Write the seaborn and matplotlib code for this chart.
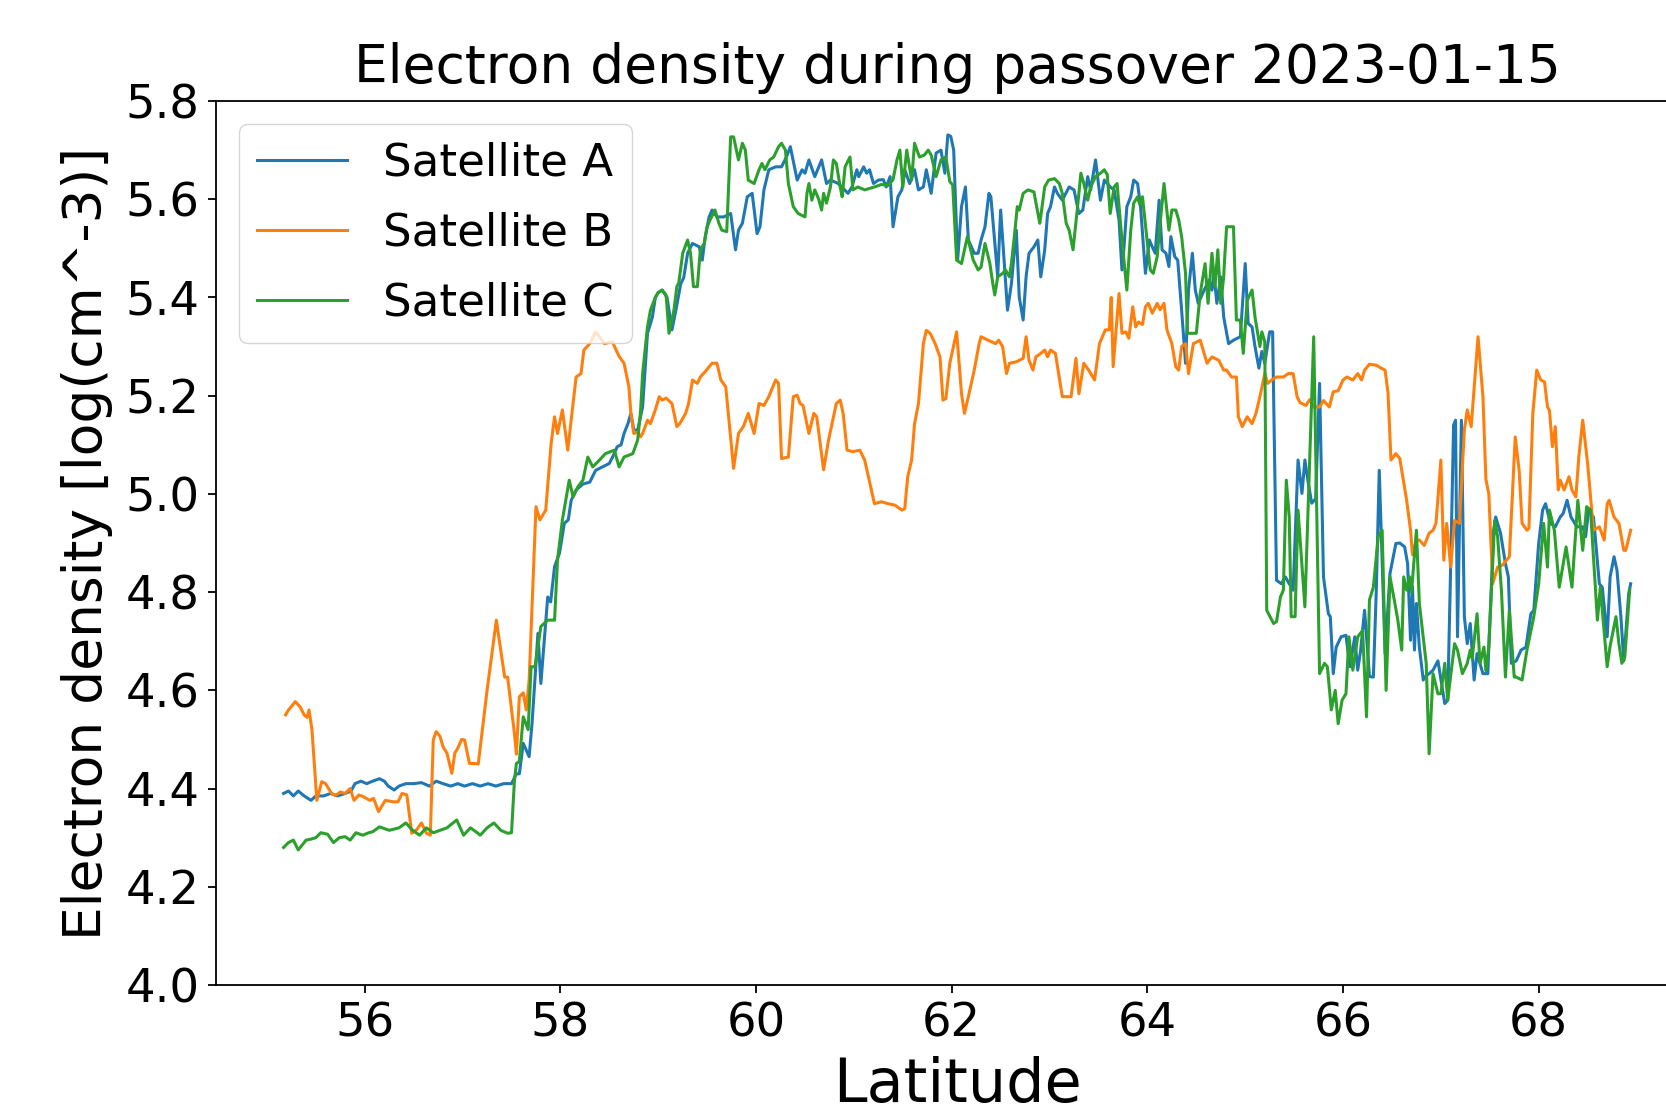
import matplotlib
matplotlib.use("Agg")
import matplotlib.pyplot as plt
import seaborn as sns
import pandas as pd

lat_a = [55.17, 55.22, 55.27, 55.32, 55.38, 55.45, 55.50, 55.58, 55.65, 55.72, 55.80, 55.86, 55.90, 55.96, 56.02, 56.08,
         56.15, 56.20, 56.24, 56.30, 56.35, 56.42, 56.50, 56.58, 56.66, 56.73, 56.80, 56.88, 56.95, 57.02, 57.10, 57.18,
         57.26, 57.34, 57.42, 57.50, 57.55, 57.58, 57.62, 57.68, 57.71, 57.77, 57.80, 57.84, 57.87, 57.90, 57.94, 57.99,
         58.04, 58.08, 58.11, 58.16, 58.23, 58.30, 58.36, 58.43, 58.50, 58.55, 58.58, 58.62, 58.65, 58.69, 58.72, 58.75,
         58.79, 58.84, 58.89, 58.94, 58.97, 59.00, 59.04, 59.09, 59.14, 59.18, 59.23, 59.26, 59.30, 59.35, 59.42, 59.45,
         59.48, 59.52, 59.55, 59.60, 59.67, 59.74, 59.79, 59.82, 59.86, 59.91, 59.96, 60.01, 60.04, 60.08, 60.13, 60.20,
         60.26, 60.31, 60.35, 60.42, 60.47, 60.50, 60.54, 60.60, 60.67, 60.72, 60.76, 60.84, 60.94, 60.98, 61.03, 61.05,
         61.10, 61.13, 61.16, 61.20, 61.25, 61.30, 61.33, 61.37, 61.40, 61.45, 61.49, 61.52, 61.57, 61.62, 61.66, 61.71,
         61.74, 61.79, 61.84, 61.89, 61.93, 61.96, 61.99, 62.02, 62.06, 62.10, 62.14, 62.17, 62.23, 62.27, 62.30, 62.34,
         62.38, 62.40, 62.45, 62.47, 62.50, 62.56, 62.57, 62.61, 62.66, 62.69, 62.73, 62.76, 62.79, 62.84, 62.88, 62.91,
         62.95, 62.98, 63.01, 63.05, 63.08, 63.13, 63.20, 63.25, 63.30, 63.34, 63.39, 63.42, 63.47, 63.52, 63.56, 63.62,
         63.66, 63.71, 63.74, 63.76, 63.79, 63.83, 63.86, 63.90, 63.93, 63.98, 64.02, 64.05, 64.08, 64.12, 64.15, 64.19,
         64.22, 64.24, 64.28, 64.31, 64.35, 64.39, 64.42, 64.46, 64.49, 64.52, 64.58, 64.63, 64.66, 64.68, 64.71, 64.75,
         64.78, 64.83, 64.88, 64.95, 65.00, 65.03, 65.07, 65.10, 65.14, 65.17, 65.20, 65.25, 65.28, 65.32, 65.37, 65.41,
         65.47, 65.49, 65.54, 65.58, 65.61, 65.64, 65.68, 65.72, 65.76, 65.80, 65.85, 65.87, 65.90, 65.93, 65.98, 66.03,
         66.07, 66.12, 66.15, 66.18, 66.22, 66.27, 66.31, 66.34, 66.37, 66.41, 66.43, 66.48, 66.54, 66.58, 66.63, 66.66,
         66.69, 66.71, 66.73, 66.75, 66.78, 66.82, 66.85, 66.88, 66.92, 66.97, 67.04, 67.07, 67.10, 67.13, 67.15, 67.17,
         67.21, 67.24, 67.27, 67.30, 67.34, 67.37, 67.43, 67.48, 67.49, 67.54, 67.56, 67.61, 67.66, 67.69, 67.72, 67.77,
         67.82, 67.87, 67.92, 67.95, 68.00, 68.04, 68.07, 68.12, 68.17, 68.22, 68.25, 68.29, 68.33, 68.39, 68.45, 68.48,
         68.51, 68.56, 68.62, 68.65, 68.70, 68.73, 68.77, 68.80, 68.84, 68.87, 68.92, 68.94]
dens_a = [4.39, 4.395, 4.385, 4.395, 4.385, 4.376, 4.385, 4.385, 4.39, 4.385, 4.39, 4.395, 4.41, 4.415, 4.41, 4.415,
          4.42, 4.415, 4.405, 4.397, 4.405, 4.41, 4.41, 4.412, 4.405, 4.415, 4.41, 4.405, 4.41, 4.405, 4.41, 4.405,
          4.41, 4.405, 4.41, 4.41, 4.43, 4.43, 4.492, 4.465, 4.533, 4.716, 4.614, 4.716, 4.79, 4.78, 4.852, 4.879,
          4.94, 4.947, 4.987, 5.008, 5.02, 5.024, 5.048, 5.055, 5.062, 5.082, 5.096, 5.10, 5.123, 5.143, 5.164, 5.13,
          5.13, 5.177, 5.327, 5.36, 5.40, 5.41, 5.415, 5.40, 5.334, 5.374, 5.428, 5.44, 5.49, 5.51, 5.503, 5.476,
          5.524, 5.564, 5.578, 5.564, 5.564, 5.571, 5.497, 5.537, 5.551, 5.605, 5.612, 5.53, 5.544, 5.619, 5.66, 5.666,
          5.666, 5.686, 5.707, 5.639, 5.66, 5.653, 5.68, 5.646, 5.68, 5.632, 5.639, 5.632, 5.612, 5.625, 5.66, 5.646,
          5.666, 5.653, 5.66, 5.632, 5.639, 5.64, 5.625, 5.646, 5.544, 5.605, 5.619, 5.66, 5.632, 5.66, 5.619, 5.625,
          5.66, 5.612, 5.694, 5.70, 5.653, 5.731, 5.728, 5.70, 5.476, 5.585, 5.625, 5.517, 5.49, 5.49, 5.517, 5.544,
          5.612, 5.605, 5.49, 5.442, 5.578, 5.401, 5.374, 5.428, 5.537, 5.401, 5.354, 5.442, 5.49, 5.503, 5.517, 5.442,
          5.496, 5.571, 5.585, 5.625, 5.612, 5.598, 5.625, 5.619, 5.571, 5.578, 5.646, 5.619, 5.68, 5.598, 5.639, 5.625,
          5.619, 5.558, 5.456, 5.50, 5.585, 5.605, 5.639, 5.632, 5.585, 5.449, 5.517, 5.503, 5.49, 5.598, 5.497, 5.49,
          5.463, 5.524, 5.483, 5.476, 5.374, 5.266, 5.415, 5.49, 5.415, 5.388, 5.415, 5.435, 5.415, 5.449, 5.388, 5.442,
          5.36, 5.306, 5.313, 5.32, 5.469, 5.347, 5.34, 5.30, 5.256, 5.29, 5.266, 5.33, 5.33, 4.824, 4.817, 4.831,
          4.81, 4.804, 5.069, 5.001, 5.069, 5.028, 4.981, 4.99, 5.225, 4.831, 4.756, 4.75, 4.634, 4.688, 4.709, 4.712,
          4.648, 4.709, 4.641, 4.682, 4.763, 4.628, 4.627, 4.804, 5.048, 4.797, 4.675, 4.838, 4.899, 4.90, 4.892, 4.858,
          4.702, 4.811, 4.682, 4.777, 4.688, 4.621, 4.63, 4.634, 4.641, 4.66, 4.573, 4.58, 4.852, 5.14, 5.15, 4.709,
          5.15, 4.75, 4.695, 4.736, 4.621, 4.675, 4.634, 4.634, 4.688, 4.926, 4.953, 4.92, 4.858, 4.831, 4.655, 4.66,
          4.682, 4.688, 4.756, 4.763, 4.90, 4.967, 4.98, 4.94, 4.933, 4.953, 4.96, 4.987, 4.953, 4.933, 4.933, 4.913,
          4.967, 4.953, 4.817, 4.81, 4.709, 4.831, 4.872, 4.845, 4.75, 4.66, 4.797, 4.817]

lat_b = [55.19, 55.22, 55.29, 55.34, 55.38, 55.41, 55.43, 55.46, 55.51, 55.56, 55.60, 55.66, 55.70, 55.75, 55.80, 55.85,
         55.89, 55.94, 55.99, 56.05, 56.09, 56.14, 56.21, 56.29, 56.34, 56.38, 56.43, 56.48, 56.53, 56.58, 56.63, 56.67,
         56.70, 56.73, 56.77, 56.80, 56.84, 56.89, 56.92, 56.95, 56.99, 57.02, 57.07, 57.12, 57.16, 57.25, 57.345, 57.43,
         57.46, 57.53, 57.55, 57.58, 57.62, 57.65, 57.68, 57.75, 57.79, 57.85, 57.905, 57.94, 57.97, 58.02, 58.075, 58.11,
         58.16, 58.21, 58.24, 58.30, 58.36, 58.45, 58.53, 58.60, 58.65, 58.70, 58.72, 58.75, 58.79, 58.82, 58.84, 58.89,
         58.92, 58.97, 59.01, 59.04, 59.08, 59.14, 59.19, 59.22, 59.28, 59.31, 59.35, 59.40, 59.43, 59.48, 59.55, 59.60,
         59.64, 59.69, 59.77, 59.82, 59.87, 59.92, 59.98, 60.03, 60.08, 60.13, 60.20, 60.23, 60.26, 60.33, 60.38, 60.42,
         60.45, 60.48, 60.54, 60.59, 60.62, 60.69, 60.74, 60.82, 60.86, 60.89, 60.93, 60.99, 61.06, 61.11, 61.21, 61.28,
         61.35, 61.42, 61.49, 61.52, 61.55, 61.59, 61.62, 61.66, 61.71, 61.74, 61.78, 61.83, 61.88, 61.91, 61.94, 61.98,
         62.01, 62.05, 62.10, 62.13, 62.17, 62.23, 62.28, 62.30, 62.37, 62.45, 62.48, 62.52, 62.56, 62.59, 62.66, 62.73,
         62.76, 62.79, 62.83, 62.86, 62.91, 62.95, 62.98, 63.01, 63.06, 63.13, 63.22, 63.27, 63.30, 63.35, 63.40, 63.46,
         63.51, 63.57, 63.61, 63.63, 63.65, 63.71, 63.74, 63.78, 63.81, 63.85, 63.88, 63.91, 63.95, 63.98, 64.01, 64.05,
         64.10, 64.13, 64.17, 64.20, 64.25, 64.29, 64.32, 64.35, 64.39, 64.42, 64.47, 64.54, 64.61, 64.66, 64.73, 64.78,
         64.81, 64.86, 64.91, 64.93, 64.97, 65.02, 65.07, 65.11, 65.15, 65.20, 65.23, 65.27, 65.32, 65.39, 65.44, 65.49,
         65.53, 65.56, 65.62, 65.66, 65.70, 65.76, 65.80, 65.86, 65.90, 65.95, 66.00, 66.04, 66.10, 66.15, 66.19, 66.22,
         66.27, 66.34, 66.39, 66.43, 66.46, 66.49, 66.54, 66.58, 66.65, 66.69, 66.71, 66.75, 66.78, 66.83, 66.88, 66.92,
         66.95, 67.00, 67.03, 67.06, 67.10, 67.14, 67.19, 67.24, 67.27, 67.31, 67.38, 67.43, 67.46, 67.49, 67.53, 67.58,
         67.63, 67.70, 67.76, 67.80, 67.83, 67.88, 67.90, 67.94, 67.98, 68.02, 68.06, 68.09, 68.11, 68.14, 68.17, 68.18,
         68.20, 68.22, 68.26, 68.31, 68.34, 68.38, 68.41, 68.45, 68.50, 68.56, 68.62, 68.67, 68.70, 68.72, 68.77, 68.82,
         68.87, 68.89, 68.94]
dens_b = [4.55, 4.56, 4.577, 4.566, 4.55, 4.545, 4.56, 4.52, 4.376, 4.414, 4.41, 4.39, 4.386, 4.393, 4.39, 4.40,
          4.376, 4.387, 4.383, 4.376, 4.38, 4.353, 4.376, 4.373, 4.373, 4.39, 4.387, 4.309, 4.316, 4.33, 4.309, 4.305,
          4.499, 4.516, 4.506, 4.485, 4.472, 4.431, 4.472, 4.482, 4.50, 4.499, 4.451, 4.451, 4.45, 4.60, 4.743, 4.627,
          4.627, 4.512, 4.47, 4.587, 4.595, 4.56, 4.62, 4.974, 4.947, 4.967, 5.103, 5.157, 5.123, 5.171, 5.089, 5.15,
          5.238, 5.245, 5.293, 5.306, 5.33, 5.306, 5.31, 5.28, 5.266, 5.218, 5.164, 5.123, 5.126, 5.116, 5.123, 5.15,
          5.143, 5.171, 5.198, 5.191, 5.195, 5.184, 5.137, 5.143, 5.164, 5.184, 5.232, 5.225, 5.238, 5.249, 5.266, 5.266,
          5.232, 5.218, 5.052, 5.123, 5.137, 5.164, 5.123, 5.184, 5.18, 5.198, 5.232, 5.225, 5.072, 5.075, 5.198, 5.201,
          5.184, 5.18, 5.123, 5.164, 5.157, 5.049, 5.109, 5.184, 5.191, 5.164, 5.089, 5.086, 5.089, 5.069, 4.98, 4.984,
          4.98, 4.977, 4.967, 4.97, 5.035, 5.069, 5.143, 5.184, 5.306, 5.333, 5.327, 5.306, 5.279, 5.191, 5.194, 5.266,
          5.293, 5.33, 5.204, 5.164, 5.198, 5.252, 5.306, 5.32, 5.313, 5.306, 5.313, 5.30, 5.245, 5.266, 5.269, 5.276,
          5.32, 5.272, 5.252, 5.279, 5.286, 5.293, 5.279, 5.293, 5.286, 5.198, 5.198, 5.276, 5.204, 5.266, 5.252, 5.232,
          5.306, 5.334, 5.334, 5.40, 5.259, 5.408, 5.327, 5.33, 5.317, 5.381, 5.34, 5.35, 5.345, 5.381, 5.388, 5.368,
          5.388, 5.375, 5.388, 5.334, 5.306, 5.259, 5.252, 5.30, 5.306, 5.245, 5.306, 5.313, 5.266, 5.279, 5.272, 5.252,
          5.252, 5.238, 5.238, 5.157, 5.137, 5.157, 5.143, 5.164, 5.198, 5.245, 5.225, 5.232, 5.238, 5.238, 5.245, 5.245,
          5.198, 5.186, 5.18, 5.192, 5.177, 5.177, 5.19, 5.177, 5.208, 5.21, 5.232, 5.238, 5.232, 5.245, 5.232, 5.252,
          5.264, 5.262, 5.256, 5.252, 5.205, 5.069, 5.082, 5.072, 4.987, 4.926, 4.876, 4.906, 4.906, 4.895, 4.92, 4.926,
          4.94, 5.069, 4.865, 4.94, 4.851, 4.946, 4.94, 5.13, 5.171, 5.137, 5.32, 5.198, 5.03, 5.00, 4.817, 4.851,
          4.855, 4.872, 5.116, 5.048, 4.94, 4.926, 4.93, 5.164, 5.252, 5.232, 5.228, 5.177, 5.17, 5.096, 5.137, 5.096,
          5.008, 5.028, 5.008, 5.035, 5.008, 4.994, 5.075, 5.15, 5.062, 4.926, 4.933, 4.906, 4.98, 4.987, 4.953, 4.94,
          4.885, 4.885, 4.926]

lat_c = [55.17, 55.22, 55.27, 55.32, 55.40, 55.45, 55.50, 55.55, 55.62, 55.68, 55.74, 55.80, 55.85, 55.91, 55.98, 56.04,
         56.08, 56.15, 56.25, 56.35, 56.42, 56.49, 56.56, 56.63, 56.70, 56.77, 56.84, 56.94, 57.01, 57.08, 57.15, 57.18,
         57.25, 57.32, 57.39, 57.46, 57.50, 57.53, 57.55, 57.58, 57.62, 57.67, 57.70, 57.74, 57.80, 57.87, 57.94, 57.97,
         58.02, 58.09, 58.13, 58.18, 58.23, 58.28, 58.33, 58.40, 58.46, 58.55, 58.60, 58.65, 58.74, 58.79, 58.82, 58.84,
         58.89, 58.92, 58.97, 59.00, 59.04, 59.08, 59.11, 59.16, 59.19, 59.21, 59.25, 59.30, 59.33, 59.36, 59.40, 59.43,
         59.47, 59.50, 59.53, 59.58, 59.62, 59.65, 59.70, 59.74, 59.77, 59.82, 59.86, 59.89, 59.92, 59.98, 60.03, 60.06,
         60.09, 60.14, 60.18, 60.23, 60.26, 60.30, 60.33, 60.38, 60.43, 60.50, 60.52, 60.54, 60.57, 60.60, 60.64, 60.67,
         60.69, 60.72, 60.76, 60.79, 60.82, 60.86, 60.88, 60.91, 60.96, 60.99, 61.04, 61.11, 61.21, 61.28, 61.35, 61.40,
         61.44, 61.47, 61.50, 61.54, 61.59, 61.62, 61.67, 61.72, 61.76, 61.79, 61.84, 61.89, 61.94, 61.98, 62.01, 62.05,
         62.10, 62.16, 62.22, 62.27, 62.30, 62.34, 62.39, 62.42, 62.44, 62.47, 62.52, 62.55, 62.59, 62.61, 62.64, 62.67,
         62.69, 62.73, 62.78, 62.84, 62.90, 62.91, 62.95, 62.99, 63.05, 63.10, 63.13, 63.17, 63.20, 63.24, 63.29, 63.32,
         63.35, 63.39, 63.42, 63.47, 63.52, 63.56, 63.59, 63.62, 63.66, 63.69, 63.74, 63.79, 63.83, 63.86, 63.90, 63.92,
         63.95, 64.00, 64.03, 64.06, 64.10, 64.13, 64.17, 64.22, 64.25, 64.29, 64.32, 64.35, 64.39, 64.41, 64.47, 64.50,
         64.54, 64.59, 64.62, 64.66, 64.69, 64.72, 64.75, 64.78, 64.79, 64.81, 64.88, 64.91, 64.95, 64.98, 65.02, 65.07,
         65.10, 65.15, 65.17, 65.20, 65.22, 65.29, 65.32, 65.36, 65.39, 65.42, 65.45, 65.47, 65.51, 65.54, 65.61, 65.70,
         65.76, 65.81, 65.84, 65.88, 65.92, 65.95, 65.99, 66.03, 66.06, 66.10, 66.15, 66.20, 66.24, 66.27, 66.31, 66.36,
         66.40, 66.44, 66.48, 66.53, 66.56, 66.60, 66.62, 66.65, 66.68, 66.70, 66.75, 66.78, 66.85, 66.88, 66.92, 66.97,
         67.00, 67.04, 67.07, 67.14, 67.17, 67.22, 67.27, 67.30, 67.32, 67.37, 67.40, 67.44, 67.46, 67.49, 67.55, 67.58,
         67.62, 67.66, 67.70, 67.75, 67.77, 67.83, 67.88, 67.95, 68.00, 68.05, 68.09, 68.11, 68.16, 68.21, 68.28, 68.34,
         68.40, 68.45, 68.49, 68.53, 68.60, 68.63, 68.70, 68.73, 68.79, 68.82, 68.85, 68.88, 68.93]
dens_c = [4.28, 4.29, 4.295, 4.275, 4.295, 4.297, 4.30, 4.31, 4.307, 4.29, 4.30, 4.302, 4.295, 4.31, 4.305, 4.31,
          4.312, 4.322, 4.315, 4.32, 4.33, 4.315, 4.305, 4.32, 4.31, 4.315, 4.32, 4.336, 4.305, 4.32, 4.31, 4.305,
          4.32, 4.33, 4.315, 4.309, 4.31, 4.417, 4.451, 4.455, 4.546, 4.52, 4.648, 4.648, 4.73, 4.743, 4.743, 4.865,
          4.947, 5.028, 4.994, 5.015, 5.028, 5.075, 5.055, 5.069, 5.082, 5.089, 5.055, 5.075, 5.082, 5.11, 5.171, 5.245,
          5.34, 5.374, 5.40, 5.41, 5.415, 5.405, 5.327, 5.374, 5.422, 5.43, 5.49, 5.517, 5.49, 5.422, 5.422, 5.497,
          5.51, 5.544, 5.558, 5.578, 5.551, 5.537, 5.534, 5.727, 5.727, 5.68, 5.714, 5.70, 5.639, 5.632, 5.66, 5.673,
          5.66, 5.68, 5.686, 5.707, 5.714, 5.70, 5.632, 5.585, 5.571, 5.564, 5.612, 5.632, 5.598, 5.619, 5.60, 5.578,
          5.612, 5.592, 5.625, 5.68, 5.673, 5.625, 5.605, 5.666, 5.686, 5.619, 5.625, 5.619, 5.625, 5.63, 5.628, 5.64,
          5.68, 5.70, 5.625, 5.70, 5.639, 5.714, 5.686, 5.69, 5.70, 5.69, 5.646, 5.68, 5.686, 5.636, 5.629, 5.476,
          5.469, 5.524, 5.476, 5.456, 5.462, 5.51, 5.469, 5.428, 5.405, 5.442, 5.449, 5.456, 5.442, 5.469, 5.524, 5.585,
          5.578, 5.612, 5.619, 5.615, 5.551, 5.565, 5.625, 5.639, 5.642, 5.632, 5.612, 5.551, 5.537, 5.497, 5.592, 5.653,
          5.632, 5.598, 5.625, 5.646, 5.653, 5.66, 5.65, 5.571, 5.625, 5.632, 5.517, 5.415, 5.537, 5.592, 5.605, 5.59,
          5.605, 5.51, 5.456, 5.449, 5.483, 5.551, 5.632, 5.537, 5.578, 5.578, 5.558, 5.524, 5.449, 5.327, 5.327, 5.327,
          5.408, 5.469, 5.388, 5.49, 5.422, 5.497, 5.388, 5.442, 5.48, 5.544, 5.544, 5.354, 5.354, 5.286, 5.394, 5.415,
          5.36, 5.30, 5.33, 5.31, 4.763, 4.736, 4.74, 4.79, 4.804, 5.028, 4.953, 4.75, 4.75, 4.967, 4.77, 5.32,
          4.634, 4.655, 4.648, 4.56, 4.60, 4.532, 4.58, 4.593, 4.709, 4.641, 4.709, 4.722, 4.546, 4.784, 4.81, 4.913,
          4.926, 4.60, 4.831, 4.777, 4.743, 4.682, 4.831, 4.804, 4.831, 4.80, 4.926, 4.777, 4.655, 4.471, 4.634, 4.593,
          4.593, 4.655, 4.58, 4.695, 4.682, 4.634, 4.655, 4.682, 4.665, 4.756, 4.655, 4.688, 4.64, 4.688, 4.946, 4.913,
          4.80, 4.627, 4.763, 4.627, 4.627, 4.621, 4.682, 4.75, 4.817, 4.94, 4.851, 4.967, 4.926, 4.81, 4.892, 4.81,
          4.987, 4.885, 4.974, 4.967, 4.743, 4.81, 4.648, 4.69, 4.75, 4.695, 4.655, 4.668, 4.804]

series_names = ["Satellite A", "Satellite B", "Satellite C"]
colors = ["#1f77b4", "#ff7f0e", "#2ca02c"]

df = pd.concat([
    pd.DataFrame({"Latitude": lat_a, "Density": dens_a, "Satellite": series_names[0]}),
    pd.DataFrame({"Latitude": lat_b, "Density": dens_b, "Satellite": series_names[1]}),
    pd.DataFrame({"Latitude": lat_c, "Density": dens_c, "Satellite": series_names[2]}),
], ignore_index=True)

plt.rcParams["font.family"] = ["DejaVu Sans"]
fig = plt.figure(figsize=(16.66, 11.15), dpi=100)
ax = fig.add_axes([0.1297, 0.1166, 0.8896, 0.7928])

sns.lineplot(data=df, x="Latitude", y="Density", hue="Satellite", palette=colors,
             estimator=None, sort=True, linewidth=2.2, ax=ax)

ax.set_xlim(54.48, 69.63)
ax.set_ylim(4.0, 5.8)
ax.set_xticks([56, 58, 60, 62, 64, 66, 68])
ax.set_yticks([4.0, 4.2, 4.4, 4.6, 4.8, 5.0, 5.2, 5.4, 5.6, 5.8])
ax.set_yticklabels(["4.0", "4.2", "4.4", "4.6", "4.8", "5.0", "5.2", "5.4", "5.6", "5.8"])
ax.tick_params(axis="both", labelsize=33.5, length=6, width=1.3, pad=6)
for s in ax.spines.values():
    s.set_linewidth(1.3)

ax.set_xlabel("Latitude", fontsize=43.5, labelpad=7)
ax.set_ylabel("Electron density [log(cm^-3)]", fontsize=38.4, labelpad=9)
ax.set_title("Electron density during passover 2023-01-15", fontsize=38.4, pad=13)
ax.legend(loc="upper left", fontsize=32.5, labelspacing=0.6)

fig.savefig("out.png", dpi=100)
